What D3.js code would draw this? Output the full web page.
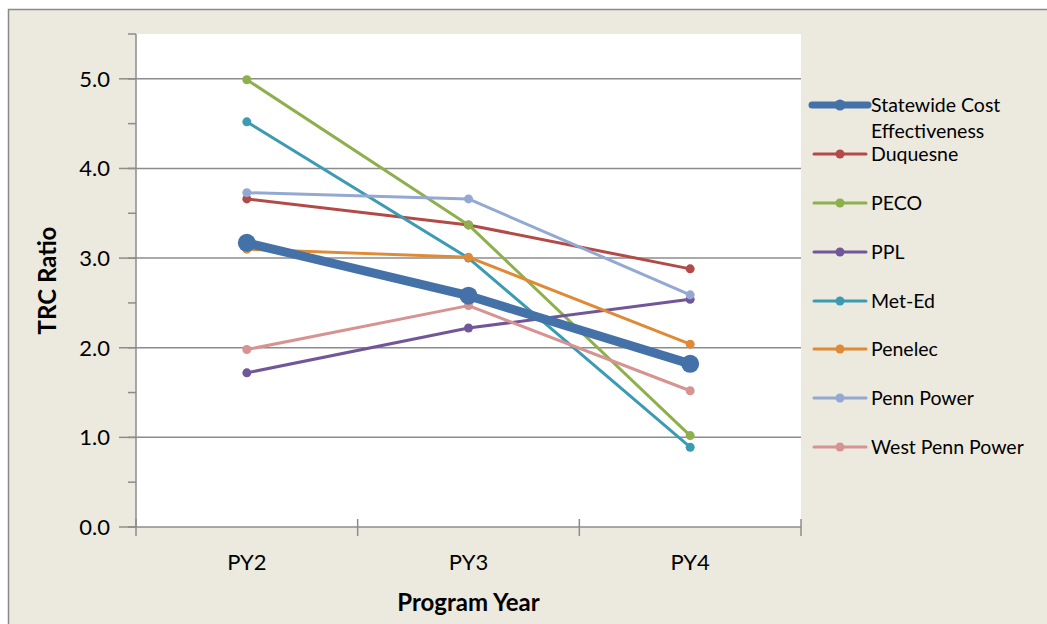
<!DOCTYPE html>
<html>
<head>
<meta charset="utf-8">
<script src="https://cdn.jsdelivr.net/npm/d3@7"></script>
<style>
  html, body { margin: 0; padding: 0; background: #fff; }
  svg { display: block; }
  text { font-family: Lato, "Open Sans", sans-serif; fill: #000; }
</style>
</head>
<body>
<svg id="chart" width="1047" height="624"></svg>
<script>
// Program years on the category axis
const years = ["PY2", "PY3", "PY4"];

// TRC ratio by program year, one array per utility
const statewide  = [3.17, 2.58, 1.82];
const duquesne   = [3.66, 3.37, 2.88];
const peco       = [4.99, 3.37, 1.02];
const ppl        = [1.72, 2.22, 2.54];
const metEd      = [4.52, 3.00, 0.89];
const penelec    = [3.10, 3.01, 2.04];
const pennPower  = [3.73, 3.66, 2.59];
const westPenn   = [1.98, 2.47, 1.52];

const seriesNames = ["Statewide Cost Effectiveness", "Duquesne", "PECO", "PPL",
                     "Met-Ed", "Penelec", "Penn Power", "West Penn Power"];
const seriesValues = [statewide, duquesne, peco, ppl, metEd, penelec, pennPower, westPenn];
const seriesColors = ["#4472A8", "#B34A47", "#8DAF4C", "#71579A",
                      "#3C9BB3", "#E08A36", "#93A9D2", "#D69391"];

const yTicks = [0, 1, 2, 3, 4, 5];

const svg = d3.select("#chart");
const W = 1047, H = 624;

// chart frame
svg.append("rect").attr("x", 0).attr("y", 0).attr("width", W).attr("height", H).attr("fill", "#fff");
svg.append("rect").attr("x", 8.5).attr("y", 9.5).attr("width", W + 10).attr("height", H + 10)
  .attr("fill", "#ECE9DF").attr("stroke", "#8a8a8a").attr("stroke-width", 1.5);

const plot = { left: 136, right: 801, top: 34, bottom: 527 };

svg.append("rect").attr("x", plot.left).attr("y", plot.top)
  .attr("width", plot.right - plot.left).attr("height", plot.bottom - plot.top)
  .attr("fill", "#fff");

const x = d3.scaleBand().domain(years).range([plot.left, plot.right]).padding(0);
const y = d3.scaleLinear().domain([0, 5.5]).range([plot.bottom, plot.top]);

// horizontal gridlines
svg.append("g").selectAll("line").data(yTicks.filter(d => d > 0)).join("line")
  .attr("x1", plot.left).attr("x2", plot.right)
  .attr("y1", d => y(d)).attr("y2", d => y(d))
  .attr("stroke", "#8c8c8c").attr("stroke-width", 1.5);

// y axis with major and minor tick marks
const yAxis = svg.append("g").attr("transform", `translate(${plot.left},0)`);
yAxis.append("line").attr("x1", 0).attr("x2", 0).attr("y1", plot.top).attr("y2", plot.bottom)
  .attr("stroke", "#8c8c8c").attr("stroke-width", 1.5);
const minor = d3.range(0, 5.51, 0.5);
yAxis.selectAll("line.tk").data(minor).join("line").attr("class", "tk")
  .attr("x1", -8).attr("x2", 0).attr("y1", d => y(d)).attr("y2", d => y(d))
  .attr("stroke", "#8c8c8c").attr("stroke-width", 1.5);
yAxis.selectAll("line.tkr").data(yTicks).join("line").attr("class", "tkr")
  .attr("x1", -17).attr("x2", 0).attr("y1", d => y(d)).attr("y2", d => y(d))
  .attr("stroke", "#8c8c8c").attr("stroke-width", 1.5);
yAxis.selectAll("text").data(yTicks).join("text")
  .attr("x", -26).attr("y", d => y(d)).attr("dy", "0.36em")
  .attr("text-anchor", "end").attr("font-size", 22)
  .text(d => d3.format(".1f")(d));

// x axis
const xAxis = svg.append("g").attr("transform", `translate(0,${plot.bottom})`);
xAxis.append("line").attr("x1", plot.left).attr("x2", plot.right).attr("y1", 0).attr("y2", 0)
  .attr("stroke", "#8c8c8c").attr("stroke-width", 1.5);
const bounds = years.map(d => x(d)).concat([x(years[years.length - 1]) + x.bandwidth()]);
xAxis.selectAll("line.tk").data(bounds).join("line").attr("class", "tk")
  .attr("x1", d => d).attr("x2", d => d).attr("y1", -8).attr("y2", 9)
  .attr("stroke", "#8c8c8c").attr("stroke-width", 1.5);
xAxis.selectAll("text").data(years).join("text")
  .attr("x", d => x(d) + x.bandwidth() / 2).attr("y", 43)
  .attr("text-anchor", "middle").attr("font-size", 22)
  .text(d => d);

// axis titles
svg.append("text").attr("transform", `translate(56,${(plot.top + plot.bottom) / 2}) rotate(-90)`)
  .attr("text-anchor", "middle").attr("font-size", 24).attr("font-weight", "bold")
  .text("TRC Ratio");
svg.append("text").attr("x", x("PY3") + x.bandwidth() / 2).attr("y", 611)
  .attr("text-anchor", "middle").attr("font-size", 24).attr("font-weight", "bold")
  .text("Program Year");

// series lines and markers (the statewide line is drawn last and heaviest)
const cx = d => x(d) + x.bandwidth() / 2;
const line = d3.line().x((v, i) => cx(years[i])).y(v => y(v));
const order = [1, 2, 3, 4, 5, 6, 7, 0];
order.forEach(k => {
  const g = svg.append("g");
  const big = k === 0;
  g.append("path").datum(seriesValues[k]).attr("d", line)
    .attr("fill", "none").attr("stroke", seriesColors[k])
    .attr("stroke-width", big ? 9 : 3).attr("stroke-linejoin", "round");
  g.selectAll("circle").data(seriesValues[k]).join("circle")
    .attr("cx", (v, i) => cx(years[i])).attr("cy", v => y(v))
    .attr("r", big ? 9 : 4.5).attr("fill", seriesColors[k]);
});

// legend
const legendY = [105, 154, 203, 252, 301, 349, 398, 447];
const lg = svg.append("g");
seriesNames.forEach((name, k) => {
  const g = lg.append("g").attr("transform", `translate(0,${legendY[k]})`);
  const big = k === 0;
  g.append("line").attr("x1", big ? 812 : 814).attr("x2", big ? 868 : 866)
    .attr("y1", 0).attr("y2", 0).attr("stroke", seriesColors[k])
    .attr("stroke-width", big ? 7 : 3).attr("stroke-linecap", "round");
  g.append("circle").attr("cx", 840).attr("cy", 0).attr("r", big ? 5.5 : 4.5).attr("fill", seriesColors[k]);
  const t = g.append("text").attr("x", 871).attr("y", 0).attr("dy", "0.35em").attr("font-size", 19.5);
  if (big) {
    t.append("tspan").attr("x", 871).text("Statewide Cost");
    t.append("tspan").attr("x", 871).attr("dy", 26).text("Effectiveness");
  } else {
    t.text(name);
  }
});
</script>
</body>
</html>
